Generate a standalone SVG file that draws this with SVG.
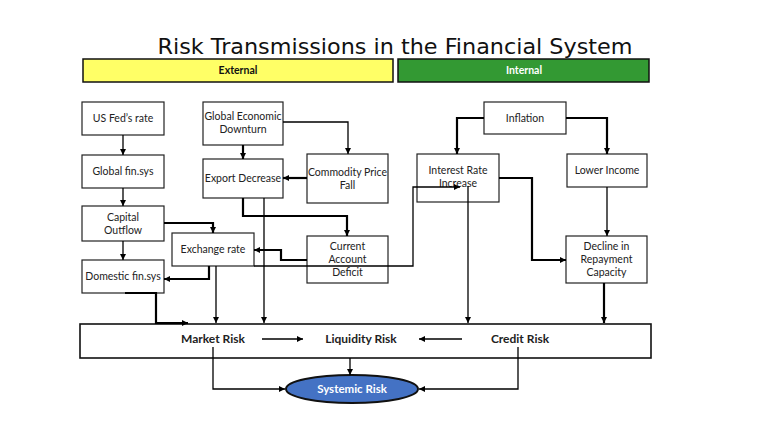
<svg xmlns="http://www.w3.org/2000/svg" width="768" height="433" viewBox="0 0 768 433">
<defs>
<marker id="ah" viewBox="0 0 6 6" refX="6" refY="3" markerWidth="6" markerHeight="6" markerUnits="userSpaceOnUse" orient="auto">
<path d="M0,0 L6,3 L0,6 z" fill="#000"/>
</marker>
</defs>
<style>
.box{fill:#fff;stroke:#222;stroke-width:1.2}
.t{font-family:Lato,"Open Sans","Liberation Sans",sans-serif;font-size:10.5px;fill:#222;text-anchor:middle}
.b{font-family:Lato,"Open Sans","Liberation Sans",sans-serif;font-weight:bold;text-anchor:middle}
.c{fill:none;stroke:#000;stroke-width:1.3;marker-end:url(#ah)}
.k{fill:none;stroke:#000;stroke-width:2.2;marker-end:url(#ah)}
</style>
<rect width="768" height="433" fill="#fff"/>
<text x="395" y="54" font-family="DejaVu Sans,sans-serif" font-size="22" fill="#111" text-anchor="middle" textLength="475" lengthAdjust="spacingAndGlyphs">Risk Transmissions in the Financial System</text>
<g id="external">
<rect x="83" y="59" width="310" height="23" fill="#ffff66" stroke="#111" stroke-width="1.5"/>
<text class="b" x="238" y="74" font-size="10.5" fill="#111">External</text>
</g>
<g id="internal">
<rect x="398" y="59" width="251" height="23" fill="#339933" stroke="#111" stroke-width="1.5"/>
<text class="b" x="524" y="74" font-size="10.5" fill="#fff">Internal</text>
</g>
<g id="usfed"><rect class="box" x="82" y="102" width="82" height="33"/><text class="t" x="123" y="122">US Fed’s rate</text></g>
<g id="globalfin"><rect class="box" x="82" y="155" width="82" height="33"/><text class="t" x="123" y="175">Global fin.sys</text></g>
<g id="capout"><rect class="box" x="82" y="206" width="82" height="35"/><text class="t" x="123" y="221">Capital</text><text class="t" x="123" y="234">Outflow</text></g>
<g id="domfin"><rect class="box" x="82" y="260" width="82" height="33"/><text class="t" x="123" y="280">Domestic fin.sys</text></g>
<g id="ged"><rect class="box" x="203" y="102" width="80" height="43"/><text class="t" x="243" y="120">Global Economic</text><text class="t" x="243" y="133">Downturn</text></g>
<g id="export"><rect class="box" x="203" y="159" width="80" height="39"/><text class="t" x="243" y="182">Export Decrease</text></g>
<g id="commodity"><rect class="box" x="307" y="154" width="81" height="49"/><text class="t" x="347.5" y="176">Commodity Price</text><text class="t" x="347.5" y="189">Fall</text></g>
<g id="exch"><rect class="box" x="172" y="233" width="82" height="33"/><text class="t" x="213" y="253">Exchange rate</text></g>
<g id="cad"><rect class="box" x="307" y="236" width="81" height="47"/><text class="t" x="347.5" y="250">Current</text><text class="t" x="347.5" y="263">Account</text><text class="t" x="347.5" y="276">Deficit</text></g>
<g id="inflation"><rect class="box" x="484" y="102" width="82" height="32"/><text class="t" x="525" y="122">Inflation</text></g>
<g id="ir"><rect class="box" x="417" y="154" width="82" height="48"/><text class="t" x="458" y="174">Interest Rate</text><text class="t" x="458" y="187">Increase</text></g>
<g id="lower"><rect class="box" x="567" y="154" width="80" height="33"/><text class="t" x="607" y="174">Lower Income</text></g>
<g id="decline"><rect class="box" x="566" y="236" width="81" height="47"/><text class="t" x="606.5" y="250">Decline in</text><text class="t" x="606.5" y="263">Repayment</text><text class="t" x="606.5" y="276">Capacity</text></g>
<g id="riskbox">
<rect x="80" y="324" width="571" height="34" fill="#fff" stroke="#111" stroke-width="1.6"/>
<text class="b" x="213" y="343" font-size="12" fill="#222">Market Risk</text>
<text class="b" x="361" y="343" font-size="12" fill="#222">Liquidity Risk</text>
<text class="b" x="520" y="343" font-size="12" fill="#222">Credit Risk</text>
</g>
<g id="systemic">
<ellipse cx="352" cy="389" rx="66" ry="14" fill="#4472c4" stroke="#111" stroke-width="2"/>
<text class="b" x="352" y="393" font-size="11.5" fill="#fff">Systemic Risk</text>
</g>
<g id="connectors">
<path class="c" d="M123,135 V155"/>
<path class="c" d="M123,188 V206"/>
<path class="c" d="M123,241 V260"/>
<path class="k" d="M164,223 H213 V233"/>
<path class="k" d="M209,266 V279 H164"/>
<path class="k" d="M125,293 H156 V323 H188"/>
<path class="c" d="M216,266 V323"/>
<path class="k" d="M243,145 V159"/>
<path class="c" d="M283,122 H348 V154"/>
<path class="k" d="M307,178 H283"/>
<path class="k" d="M243,198 V216 H347 V236"/>
<path class="c" d="M264,198 V323"/>
<path class="k" d="M307,260 H281 V250 H254"/>
<path class="c" d="M254,266 H413 V187 H460"/>
<path class="k" d="M484,118 H457 V154"/>
<path class="k" d="M566,118 H607 V154"/>
<path class="c" d="M607,187 V236"/>
<path class="k" d="M499,178 H532 V260 H566"/>
<path class="c" d="M468,186 V323"/>
<path class="k" d="M604,283 V323"/>
<path class="c" d="M262,339 H303"/>
<path class="c" d="M462,339 H419"/>
<path class="c" d="M350,358 V375"/>
<path class="c" d="M213,347 V389 H285"/>
<path class="c" d="M518,347 V389 H419"/>
</g>
</svg>
